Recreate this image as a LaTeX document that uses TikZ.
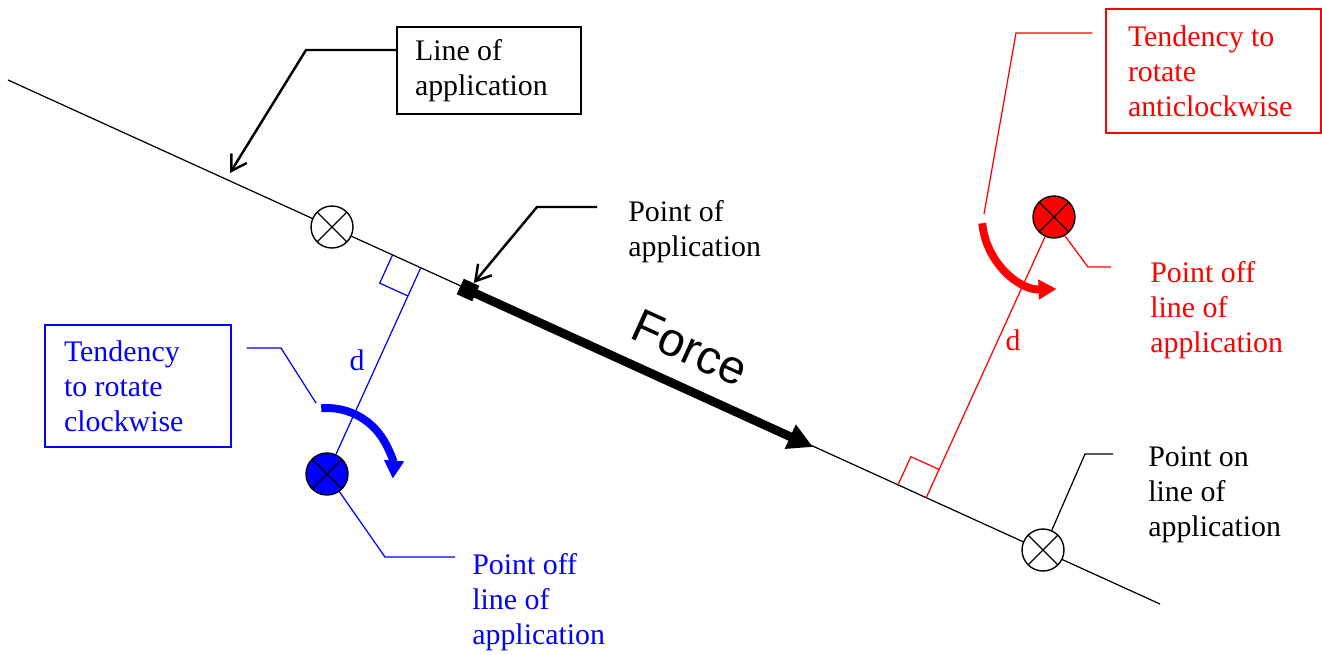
\documentclass[tikz,border=0pt]{standalone}
\usepackage{fontspec}
\setmainfont{Liberation Serif}
\newfontfamily\forcefont{Liberation Sans}
\usetikzlibrary{arrows.meta,calc}

\begin{document}
\begin{tikzpicture}[x=0.02cm,y=-0.02cm,
  fine/.style={line width=0.7pt},
  txt/.style={font=\fontsize{17}{20}\selectfont,align=left,inner sep=0pt,anchor=west},
  tagbox/.style={draw,fine,font=\fontsize{17}{20}\selectfont,align=flush left,text width=#1,inner ysep=0pt},
  xcirc/.style={circle,draw=black,line width=0.8pt,minimum size=0.84cm,inner sep=0pt,
    path picture={\draw[line width=0.7pt] (path picture bounding box.north west) -- (path picture bounding box.south east)
      (path picture bounding box.north east) -- (path picture bounding box.south west);}},
  leader/.style={line width=1.4pt,-{Straight Barb[length=0.3cm,width=0.36cm]}},
  rotarrow/.style={line width=4.5pt,-{Triangle[length=0.36cm,width=0.38cm]}}]
  \useasboundingbox (0,0) rectangle (1322,654);

  % line of application
  \coordinate (la) at (8,80);
  \coordinate (lb) at (1160,604);
  \draw[fine] (la) -- (lb);

  % points on and off the line
  \node[xcirc,fill=white] (onA) at (332,227) {};
  \node[xcirc,fill=white] (onB) at (1043,550) {};
  \node[xcirc,fill=blue] (offB) at (327,474) {};
  \node[xcirc,fill=red] (offR) at (1054,217) {};

  % the force
  \node[fill,minimum size=0.34cm,inner sep=0pt,rotate=-24.5] (poa) at (468,290) {};
  \coordinate (ftip) at (813,447);
  \draw[line width=5pt,-{Triangle[length=0.5cm,width=0.5cm]}] (poa.center) -- (ftip);
  \node[font=\forcefont\fontsize{27}{30}\selectfont,rotate=-24.5] (force) at (690,348) {Force};

  % perpendicular distances
  \coordinate (bft) at ($(la)!(offB)!(lb)$);
  \coordinate (bq1) at ($(bft)!0.62cm!(la)$);
  \coordinate (bq3) at ($(bft)!0.62cm!(offB)$);
  \draw[blue,fine] (bft) -- (offB);
  \draw[blue,fine] (bq1) -- ($(bq1)+(bq3)-(bft)$) -- (bq3);
  \node[txt,blue,anchor=center] (db) at (357,360) {d};

  \coordinate (rft) at ($(la)!(offR)!(lb)$);
  \coordinate (rq1) at ($(rft)!0.62cm!(la)$);
  \coordinate (rq3) at ($(rft)!0.62cm!(offR)$);
  \draw[red,fine] (rft) -- (offR);
  \draw[red,fine] (rq1) -- ($(rq1)+(rq3)-(rft)$) -- (rq3);
  \node[txt,red,anchor=center] (dr) at (1013,340) {d};

  % turning tendencies
  \draw[rotarrow,blue] ([shift={(95:1.32cm)}]offB.center) arc[start angle=95,end angle=-4,radius=1.32cm];
  \draw[rotarrow,red] ([shift={(185:1.44cm)}]offR.center) arc[start angle=185,end angle=272,radius=1.44cm];

  % labels
  \node[tagbox=2.96cm,inner xsep=0.36cm,minimum height=1.74cm] (loa) at (489,70.5) {Line of\\application};
  \coordinate (loaK) at (306,50);
  \coordinate (loaT) at (230,173);
  \draw[leader] (loa.west |- loaK) -- (loaK) -- (loaT);

  \node[txt] (poatxt) at (628,232) {Point of\\application};
  \coordinate (poaS) at (597,207);
  \coordinate (poaK) at (537,207);
  \draw[leader] (poaS) -- (poaK) -- (poa);

  \node[tagbox=2.96cm,blue,inner xsep=0.38cm,minimum height=2.44cm] (cw) at (138,386) {Tendency\\to rotate\\clockwise};
  \coordinate (cwK) at (281,348);
  \coordinate (cwE) at (316,403);
  \draw[blue,fine] ([xshift=0.3cm]cw.east |- cwK) -- (cwK) -- (cwE);

  \node[tagbox=3.42cm,red,inner xsep=0.44cm,minimum height=2.48cm] (acw) at (1213.5,71) {Tendency to\\rotate\\anticlockwise};
  \coordinate (acwK) at (1016,33);
  \coordinate (acwE) at (984,214);
  \draw[red,fine] ([xshift=-0.26cm]acw.west |- acwK) -- (acwK) -- (acwE);

  \node[txt,red] (offRtxt) at (1150,310) {Point off\\line of\\application};
  \coordinate (offRK) at (1088,267);
  \draw[red,fine] (offR.300) -- (offRK) -- ([xshift=-0.78cm]offRtxt.west |- offRK);

  \node[txt] (ontxt) at (1148,495) {Point on\\line of\\application};
  \coordinate (onK) at (1085,454);
  \draw[fine] (onB.66) -- (onK) -- ([xshift=-0.7cm]ontxt.west |- onK);

  \node[txt,blue] (offBtxt) at (472,602) {Point off\\line of\\application};
  \coordinate (offBK) at (385,557);
  \draw[blue,fine] (offB.305) -- (offBK) -- ([xshift=-0.34cm]offBtxt.west |- offBK);
\end{tikzpicture}
\end{document}
